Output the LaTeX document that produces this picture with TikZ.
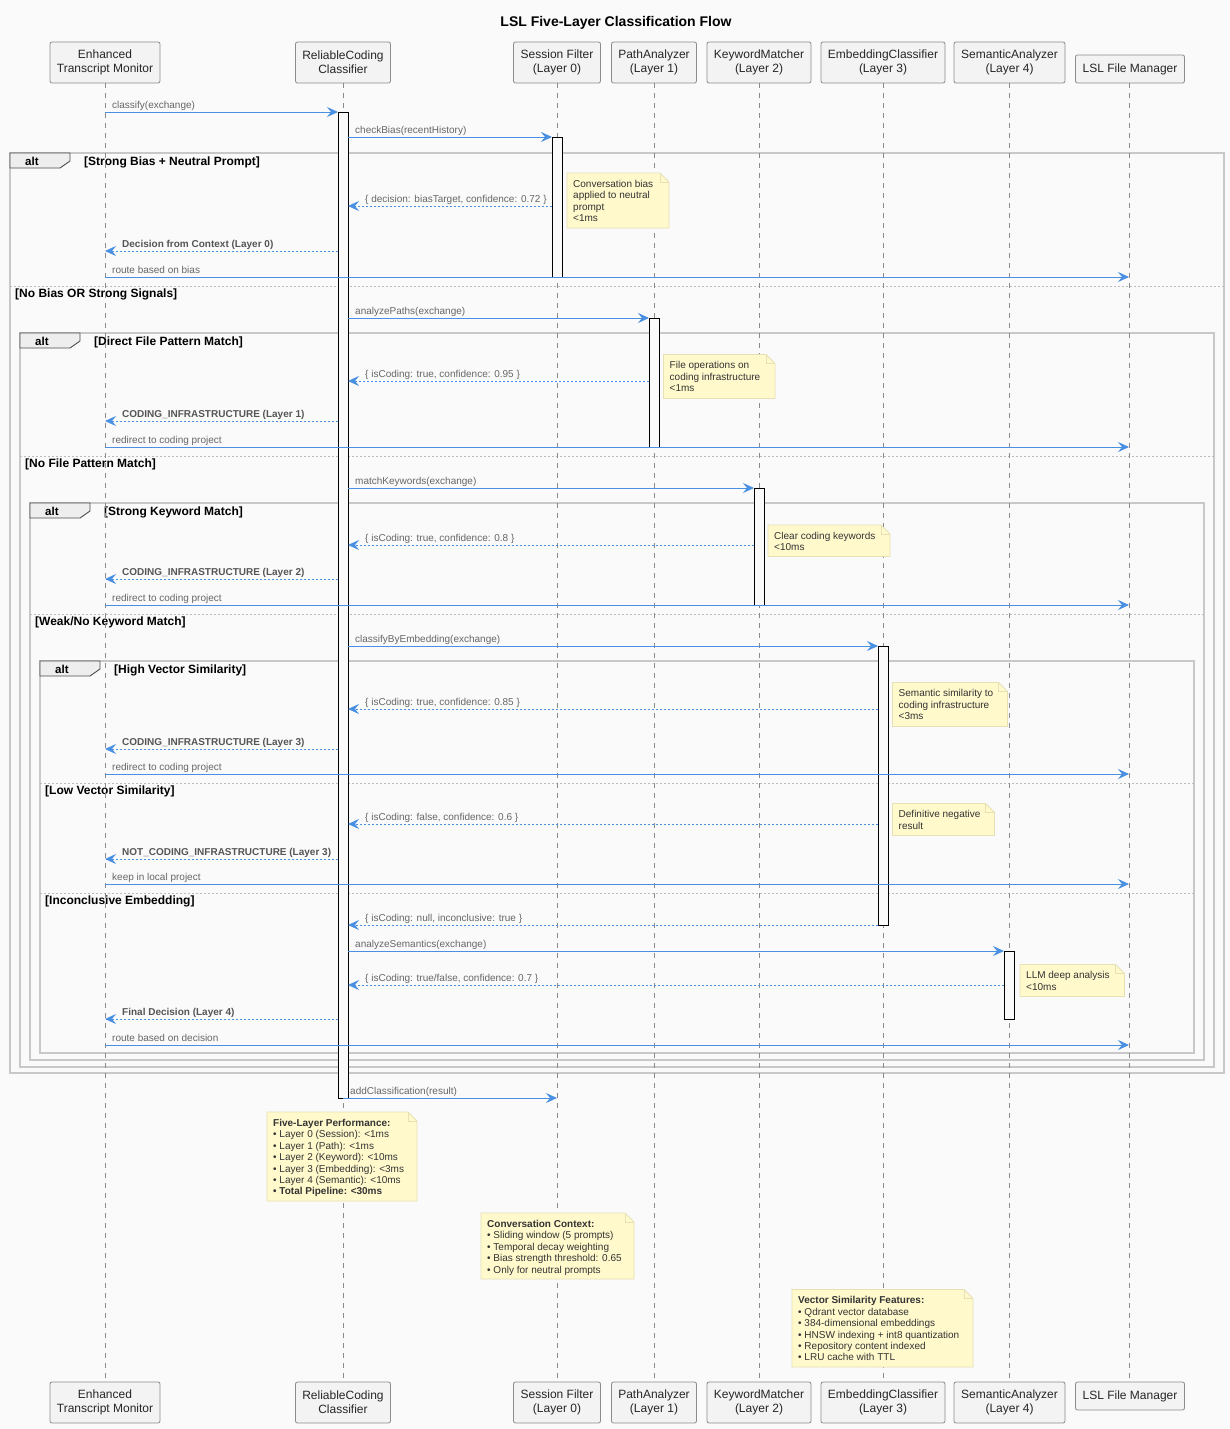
\documentclass[tikz,border=0pt]{standalone}
\usepackage{fontspec}
\setmainfont{Liberation Sans}
\usetikzlibrary{arrows.meta}
\definecolor{bg}{HTML}{FAFAFA}
\definecolor{arrowblue}{HTML}{4A90E2}
\definecolor{framegray}{HTML}{C8C8C8}
\definecolor{notefill}{HTML}{FFF9CC}
\definecolor{noteborder}{HTML}{E6E1B4}
\definecolor{lifegray}{HTML}{8A8A8A}
\definecolor{partfill}{HTML}{F3F3F3}
\definecolor{partborder}{HTML}{8C8C8C}
\definecolor{lblgray}{HTML}{666666}
\definecolor{boldgray}{HTML}{555555}
\definecolor{tabfill}{HTML}{EEEEEE}
\definecolor{divgray}{HTML}{BBBBBB}

\tikzset{
 participant/.style={draw=partborder, fill=partfill, rounded corners=2pt, inner sep=0pt, align=center,
   font=\fontsize{12}{14.3}\selectfont, text=black!85, line width=0.8pt},
 lifeline/.style={draw=lifegray, line width=0.7pt, dash pattern=on 5pt off 5pt},
 activation/.style={draw=black, fill=bg, line width=1pt},
 callarrow/.style={draw=arrowblue, line width=1pt, -{Stealth[length=11pt,width=10pt,inset=4pt]}},
 retarrow/.style={draw=arrowblue, line width=0.9pt, dash pattern=on 2pt off 2pt, -{Stealth[length=11pt,width=10pt,inset=4pt]}},
 calllbl/.style={font=\fontsize{10}{12}\selectfont, text=lblgray, inner sep=0pt},
 retlbl/.style={font=\fontsize{10}{12}\selectfont, text=lblgray, inner sep=0pt},
 retbold/.style={font=\bfseries\fontsize{10}{12}\selectfont, text=boldgray, inner sep=0pt},
 frame/.style={draw=framegray, line width=1.5pt},
 tabstyle/.style={draw=black!70, fill=tabfill, line width=0.9pt},
 alttext/.style={font=\bfseries\fontsize{11.5}{13}\selectfont, inner sep=0pt},
 guardtext/.style={font=\bfseries\fontsize{12}{14}\selectfont, inner sep=0pt},
 divider/.style={draw=divgray, line width=0.6pt, dash pattern=on 2pt off 2pt},
 notestyle/.style={draw=noteborder, fill=notefill, line width=0.8pt},
 notetext/.style={font=\fontsize{10}{11.4}\selectfont, text=black!80, align=left, inner sep=0pt},
}

\newcommand\msgcall[5]{%
  \coordinate (#1s) at (#3,#2);
  \coordinate (#1e) at (#4,#2);
  \draw[callarrow] (#1s) -- (#1e);
  \node[calllbl, anchor=base west] (#1l) at (#3+7,#2-4) {#5};
}
\newcommand\msgret[6]{%
  \coordinate (#1s) at (#3,#2);
  \coordinate (#1e) at (#4,#2);
  \draw[retarrow] (#1s) -- (#1e);
  \node[#6, anchor=base west] (#1l) at (#4+17,#2-4) {#5};
}
\newcommand\altframe[6]{%
  \draw[frame] (#2,#3) rectangle (#4,#5);
  \draw[tabstyle] (#2,#3) -- (#2+60,#3) -- (#2+60,#3+8) -- (#2+50,#3+15) -- (#2,#3+15) -- cycle;
  \node[alttext, anchor=west] (#1t) at (#2+15,#3+8) {alt};
  \node[guardtext, anchor=west] (#1g) at (#2+74,#3+9.3) {#6};
}
\newcommand\elsepart[5]{%
  \draw[divider] (#2,#4) -- (#3,#4);
  \node[guardtext, anchor=west] (#1) at (#2+5,#4+8.3) {#5};
}
\newcommand\notebox[6]{%
  \draw[notestyle] (#2,#3) -- (#4-9,#3) -- (#4,#3+9) -- (#4,#5) -- (#2,#5) -- cycle;
  \draw[notestyle, fill=none] (#4-9,#3) -- (#4-9,#3+9) -- (#4,#3+9);
  \node[notetext, anchor=north west] (#1) at (#2+6,#3+7) {#6};
}

\begin{document}
\begin{tikzpicture}[x=1pt,y=-1pt]
\useasboundingbox (0,0) rectangle (1230,1429);
\fill[bg] (0,0) rectangle (1230,1429);

\node[font=\bfseries\fontsize{14}{16}\selectfont] (title) at (616,23) {LSL Five-Layer Classification Flow};

% frames
\altframe{a1}{10}{153}{1224}{1073}{[Strong Bias + Neutral Prompt]}
\elsepart{e1}{10}{1224}{286}{[No Bias OR Strong Signals]}
\altframe{a2}{20}{333}{1214}{1067}{[Direct File Pattern Match]}
\elsepart{e2}{20}{1214}{456}{[No File Pattern Match]}
\altframe{a3}{30}{503}{1204}{1060}{[Strong Keyword Match]}
\elsepart{e3}{30}{1204}{614}{[Weak/No Keyword Match]}
\altframe{a4}{40}{661}{1194}{1053}{[High Vector Similarity]}
\elsepart{e4}{40}{1194}{783}{[Low Vector Similarity]}
\elsepart{e5}{40}{1194}{893}{[Inconclusive Embedding]}

% participants
\node[participant, minimum width=110pt, minimum height=41pt] (t1) at (105,62.5) {Enhanced\\Transcript Monitor};
\node[participant, minimum width=95pt, minimum height=41pt] (t2) at (343,62.5) {ReliableCoding\\Classifier};
\node[participant, minimum width=87pt, minimum height=41pt] (t3) at (557,62.5) {Session Filter\\(Layer 0)};
\node[participant, minimum width=85pt, minimum height=41pt] (t4) at (654,62.5) {PathAnalyzer\\(Layer 1)};
\node[participant, minimum width=104pt, minimum height=41pt] (t5) at (759,62.5) {KeywordMatcher\\(Layer 2)};
\node[participant, minimum width=124pt, minimum height=41pt] (t6) at (883,62.5) {EmbeddingClassifier\\(Layer 3)};
\node[participant, minimum width=111pt, minimum height=41pt] (t7) at (1009.5,62.5) {SemanticAnalyzer\\(Layer 4)};
\node[participant, minimum width=109pt, minimum height=28pt] (t8) at (1130,69) {LSL File Manager};

\node[participant, minimum width=110pt, minimum height=41pt] (b1) at (105,1402.5) {Enhanced\\Transcript Monitor};
\node[participant, minimum width=95pt, minimum height=41pt] (b2) at (343,1402.5) {ReliableCoding\\Classifier};
\node[participant, minimum width=87pt, minimum height=41pt] (b3) at (557,1402.5) {Session Filter\\(Layer 0)};
\node[participant, minimum width=85pt, minimum height=41pt] (b4) at (654,1402.5) {PathAnalyzer\\(Layer 1)};
\node[participant, minimum width=104pt, minimum height=41pt] (b5) at (759,1402.5) {KeywordMatcher\\(Layer 2)};
\node[participant, minimum width=124pt, minimum height=41pt] (b6) at (883,1402.5) {EmbeddingClassifier\\(Layer 3)};
\node[participant, minimum width=111pt, minimum height=41pt] (b7) at (1009.5,1402.5) {SemanticAnalyzer\\(Layer 4)};
\node[participant, minimum width=109pt, minimum height=28pt] (b8) at (1130,1396) {LSL File Manager};

% lifelines
\foreach \x in {105,343,557,654,759,883,1009,1129}{
  \draw[lifeline] (\x,83) -- (\x,1382);
}

% activations
\draw[activation] (338,112) rectangle (348,1098);
\draw[activation] (552,137) rectangle (562,277);
\draw[activation] (649,318) rectangle (659,447);
\draw[activation] (754,488) rectangle (764,605);
\draw[activation] (878,646) rectangle (888,925);
\draw[activation] (1004,951) rectangle (1014,1019);

% messages
\msgcall{m1}{112}{105}{338}{classify(exchange)}
\msgcall{m2}{137}{348}{552}{checkBias(recentHistory)}
\msgret{m3}{206}{552}{348}{\{ decision: biasTarget, confidence: 0.72 \}}{retlbl}
\msgret{m4}{251}{338}{105}{Decision from Context (Layer 0)}{retbold}
\msgcall{m5}{277}{105}{1129}{route based on bias}
\msgcall{m6}{318}{348}{649}{analyzePaths(exchange)}
\msgret{m7}{381}{649}{348}{\{ isCoding: true, confidence: 0.95 \}}{retlbl}
\msgret{m8}{421}{338}{105}{CODING\_INFRASTRUCTURE (Layer 1)}{retbold}
\msgcall{m9}{447}{105}{1129}{redirect to coding project}
\msgcall{m10}{488}{348}{754}{matchKeywords(exchange)}
\msgret{m11}{545}{754}{348}{\{ isCoding: true, confidence: 0.8 \}}{retlbl}
\msgret{m12}{579}{338}{105}{CODING\_INFRASTRUCTURE (Layer 2)}{retbold}
\msgcall{m13}{605}{105}{1129}{redirect to coding project}
\msgcall{m14}{646}{348}{878}{classifyByEmbedding(exchange)}
\msgret{m15}{709}{878}{348}{\{ isCoding: true, confidence: 0.85 \}}{retlbl}
\msgret{m16}{749}{338}{105}{CODING\_INFRASTRUCTURE (Layer 3)}{retbold}
\msgcall{m17}{774}{105}{1129}{redirect to coding project}
\msgret{m18}{824}{878}{348}{\{ isCoding: false, confidence: 0.6 \}}{retlbl}
\msgret{m19}{859}{338}{105}{NOT\_CODING\_INFRASTRUCTURE (Layer 3)}{retbold}
\msgcall{m20}{884}{105}{1129}{keep in local project}
\msgret{m21}{925}{878}{348}{\{ isCoding: null, inconclusive: true \}}{retlbl}
\msgcall{m22}{951}{348}{1004}{analyzeSemantics(exchange)}
\msgret{m23}{985}{1004}{348}{\{ isCoding: true/false, confidence: 0.7 \}}{retlbl}
\msgret{m24}{1019}{338}{105}{Final Decision (Layer 4)}{retbold}
\msgcall{m25}{1045}{105}{1129}{route based on decision}
\msgcall{m26}{1098}{343}{557}{addClassification(result)}

% notes
\notebox{n1}{567}{173}{669}{228}{Conversation bias\\applied to neutral\\prompt\\<1ms}
\notebox{n2}{663.5}{354.5}{775}{398.5}{File operations on\\coding infrastructure\\<1ms}
\notebox{n3}{768}{525}{890}{556.5}{Clear coding keywords\\<10ms}
\notebox{n4}{892.5}{682.5}{1007.5}{726.5}{Semantic similarity to\\coding infrastructure\\<3ms}
\notebox{n5}{892.5}{803.5}{994.5}{835.5}{Definitive negative\\result}
\notebox{n6}{1020}{964.5}{1124.5}{996.5}{LLM deep analysis\\<10ms}
\notebox{n7}{267}{1112}{417}{1201}{\textbf{Five-Layer Performance:}\\• Layer 0 (Session): <1ms\\• Layer 1 (Path): <1ms\\• Layer 2 (Keyword): <10ms\\• Layer 3 (Embedding): <3ms\\• Layer 4 (Semantic): <10ms\\\textbf{• Total Pipeline: <30ms}}
\notebox{n8}{481}{1213}{634}{1279}{\textbf{Conversation Context:}\\• Sliding window (5 prompts)\\• Temporal decay weighting\\• Bias strength threshold: 0.65\\• Only for neutral prompts}
\notebox{n9}{792}{1289.5}{973}{1367}{\textbf{Vector Similarity Features:}\\• Qdrant vector database\\• 384-dimensional embeddings\\• HNSW indexing + int8 quantization\\• Repository content indexed\\• LRU cache with TTL}
\end{tikzpicture}
\end{document}
